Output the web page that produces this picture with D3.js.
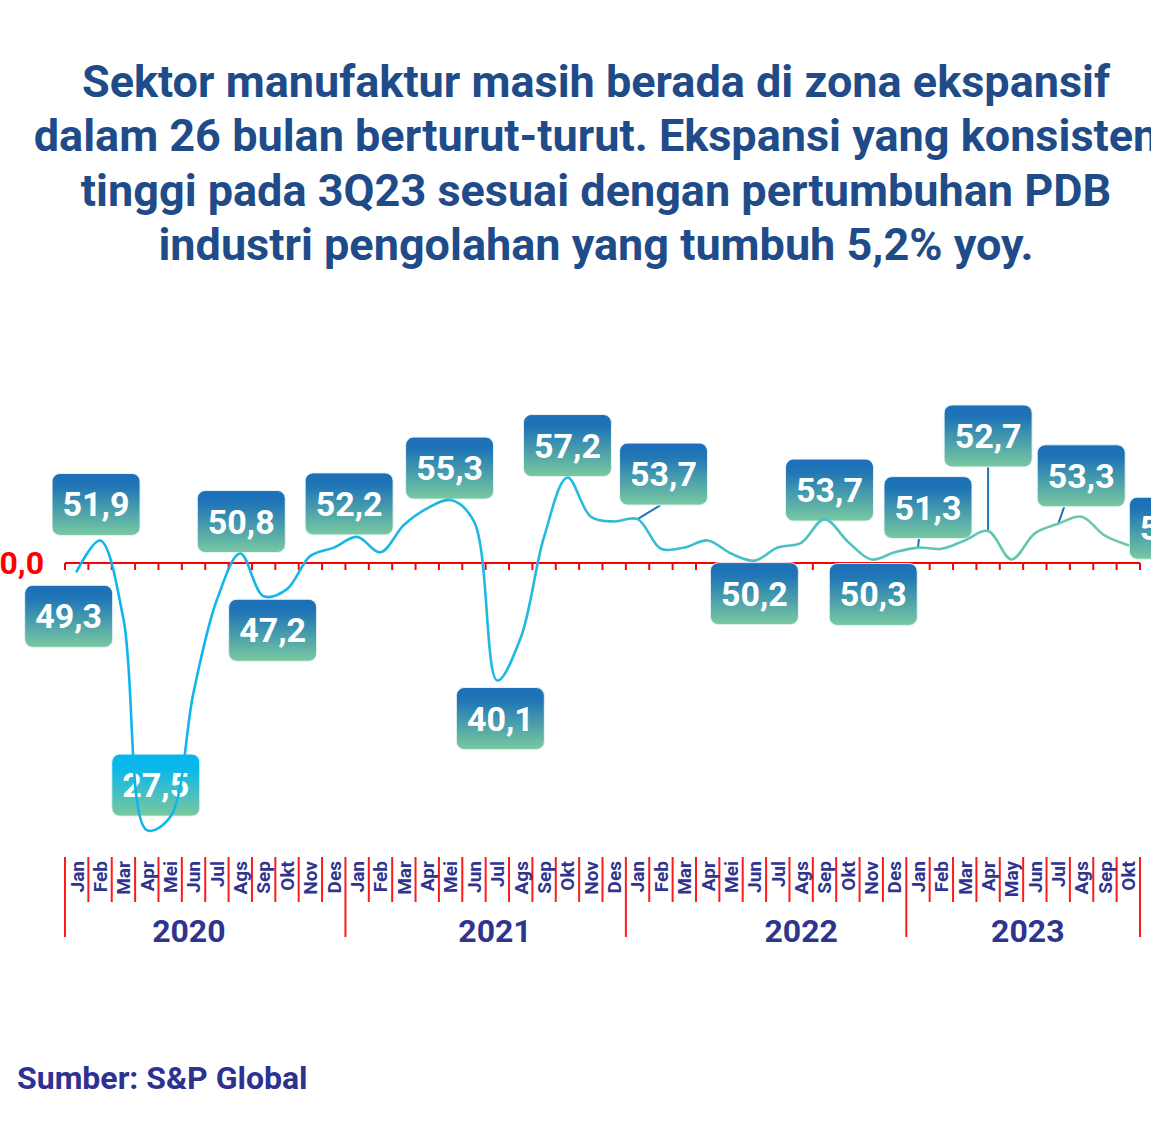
<!DOCTYPE html>
<html>
<head>
<meta charset="utf-8">
<script src="https://cdn.jsdelivr.net/npm/d3@7"></script>
<style>
  html, body { margin: 0; padding: 0; background: #ffffff; }
  svg { display: block; font-family: Roboto, "Noto Sans", sans-serif; }
</style>
</head>
<body>
<svg id="chart" width="1151" height="1129"></svg>
<script>
// ---------------- DATA ----------------
const years = ["2020", "2021", "2022", "2023"];
const monthsStd = ["Jan","Feb","Mar","Apr","Mei","Jun","Jul","Ags","Sep","Okt","Nov","Des"];
const months2023 = ["Jan","Feb","Mar","Apr","May","Jun","Jul","Ags","Sep","Okt"];
const pmi2020 = [49.3, 51.9, 45.3, 27.5, 28.6, 39.1, 46.9, 50.8, 47.2, 47.8, 50.6, 51.3];
const pmi2021 = [52.2, 50.9, 53.2, 54.6, 55.3, 53.5, 40.1, 43.7, 52.2, 57.2, 53.9, 53.5];
const pmi2022 = [53.7, 51.2, 51.3, 51.9, 50.8, 50.2, 51.3, 51.7, 53.7, 51.8, 50.3, 50.9];
const pmi2023 = [51.3, 51.2, 51.9, 52.7, 50.3, 52.5, 53.3, 53.9, 52.3, 51.5];
const baseline = 50;
const baselineLabel = "50,0";
const titleLines = [
  "Sektor manufaktur masih berada di zona ekspansif",
  "dalam 26 bulan berturut-turut. Ekspansi yang konsisten",
  "tinggi pada 3Q23 sesuai dengan pertumbuhan PDB",
  "industri pengolahan yang tumbuh 5,2% yoy."
];
const sourceText = "Sumber: S&P Global";
// indices of months that carry a value label
const labelledIdx = [0, 1, 3, 7, 8, 12, 16, 18, 21, 24, 29, 32, 34, 36, 39, 42, 45];

// ---------------- LAYOUT (label placement, not data) ----------------
const labelLayout = {
  0: {dx: -8, dy: 45}, 1: {dx: -4, dy: -36}, 3: {dx: 9, dy: -45, cyan: true},
  7: {dx: 1, dy: -32}, 8: {dx: 9, dy: 34}, 12: {dx: -8, dy: -33},
  16: {dx: -1, dy: -32}, 18: {dx: 3, dy: 38}, 21: {dx: 0, dy: -32},
  24: {dx: 26, dy: -45, conn: 23}, 29: {dx: 0, dy: 33}, 32: {dx: 5, dy: -29},
  34: {dx: 2, dy: 35}, 36: {dx: 10, dy: -40, conn: 1}, 39: {dx: 0, dy: -95, conn: 0},
  42: {dx: 23, dy: -48, conn: 6}, 45: {dx: 45, dy: -17}
};
const yearLabelBand = [5.3, 6.4, 7.5, 5.2];

// ---------------- BUILD ----------------
const monthsByYear = [monthsStd, monthsStd, monthsStd, months2023];
const valuesByYear = [pmi2020, pmi2021, pmi2022, pmi2023];
const data = [];
years.forEach((yr, yi) => {
  monthsByYear[yi].forEach((m, mi) => {
    data.push({year: yr, yi, month: m, value: valuesByYear[yi][mi], idx: data.length});
  });
});

const svg = d3.select("#chart");
const defs = svg.append("defs");

const x = d3.scaleBand().domain(data.map(d => d.idx)).range([65, 1140]).padding(0);
const bw = x.bandwidth();
const cx = i => x(i) + bw / 2;
const y = d3.scaleLinear().domain([25, 60]).range([859.8, 444.3]);

// gradients
const lg = defs.append("linearGradient").attr("id", "lineGrad")
  .attr("gradientUnits", "userSpaceOnUse").attr("x1", 65).attr("x2", 1140).attr("y1", 0).attr("y2", 0);
[[0, "#0db4ee"], [0.4, "#1db8e3"], [0.55, "#34bdd2"], [0.75, "#55c4ba"], [1, "#72c9a4"]]
  .forEach(([o, c]) => lg.append("stop").attr("offset", o).attr("stop-color", c));
const bg = defs.append("linearGradient").attr("id", "boxGrad").attr("x1", 0).attr("x2", 0).attr("y1", 0).attr("y2", 1);
[[0, "#1c6fb9"], [0.2, "#1f75b6"], [1, "#79caa0"]].forEach(([o, c]) => bg.append("stop").attr("offset", o).attr("stop-color", c));
const bgc = defs.append("linearGradient").attr("id", "boxGradCyan").attr("x1", 0).attr("x2", 0).attr("y1", 0).attr("y2", 1);
[[0, "#00b6ef"], [0.25, "#0cb8e8"], [1, "#7ac89c"]].forEach(([o, c]) => bgc.append("stop").attr("offset", o).attr("stop-color", c));

// title
svg.append("g").selectAll("text").data(titleLines).join("text")
  .attr("x", 596).attr("y", (d, i) => 97 + i * 54.3)
  .attr("text-anchor", "middle").attr("font-size", 45).attr("font-weight", 700)
  .attr("fill", "#1f4c88").text(d => d);

// baseline axis
const yb = y(baseline);
svg.append("line").attr("x1", 65).attr("x2", 1140).attr("y1", yb).attr("y2", yb)
  .attr("stroke", "#ff0000").attr("stroke-width", 2.2);
const bounds = d3.range(data.length + 1).map(i => i === data.length ? x.range()[1] : x(i));
svg.append("g").selectAll("line").data(bounds).join("line")
  .attr("x1", d => d).attr("x2", d => d).attr("y1", yb).attr("y2", yb + 7)
  .attr("stroke", "#ff0000").attr("stroke-width", 2);
svg.append("text").attr("x", 44).attr("y", yb + 11).attr("text-anchor", "end")
  .attr("font-size", 32).attr("font-weight", 700).attr("fill", "#ff0000").text(baselineLabel);

// bottom category axis
const yearStarts = [0, 12, 24, 36, 46];
const axisG = svg.append("g");
axisG.selectAll("line.m").data(bounds).join("line").attr("class", "m")
  .attr("x1", d => d).attr("x2", d => d)
  .attr("y1", 857).attr("y2", (d, i) => yearStarts.includes(i) ? 937 : 902)
  .attr("stroke", "#ff1a1a").attr("stroke-width", 2);
axisG.selectAll("text.m").data(data).join("text").attr("class", "m")
  .attr("transform", d => `translate(${cx(d.idx)},861) rotate(-90)`)
  .attr("dy", "0.36em").attr("text-anchor", "end")
  .attr("font-size", 19).attr("font-weight", 700).attr("fill", "#2f358f").text(d => d.month);
axisG.selectAll("text.y").data(years).join("text").attr("class", "y")
  .attr("x", (d, i) => x(yearStarts[i]) + yearLabelBand[i] * bw).attr("y", 942)
  .attr("text-anchor", "middle").attr("font-size", 32).attr("font-weight", 700)
  .attr("fill", "#2f358f").text(d => d);

// labels
const fmt = v => d3.format(".1f")(v).replace(".", ",");
const BW = 88, BH = 62;
const labG = svg.append("g");
labelledIdx.forEach(i => {
  const d = data[i];
  const L = labelLayout[i];
  const px = cx(i), py = y(d.value);
  const bx = px + L.dx, by = py + L.dy;
  if (L.conn !== undefined) {
    const top = by - BH / 2, bot = by + BH / 2;
    const sy = py > by ? bot : top;
    labG.append("line").attr("x1", px + L.conn).attr("y1", sy).attr("x2", px).attr("y2", py)
      .attr("stroke", "#1f73b7").attr("stroke-width", 2);
  }
  labG.append("rect").attr("x", bx - BW / 2).attr("y", by - BH / 2).attr("width", BW).attr("height", BH)
    .attr("rx", 8).attr("fill", L.cyan ? "url(#boxGradCyan)" : "url(#boxGrad)")
    .attr("stroke", "#e9f3f3").attr("stroke-width", 1);
  labG.append("text").attr("x", bx).attr("y", by + 12).attr("text-anchor", "middle")
    .attr("font-size", 34).attr("font-weight", 700).attr("fill", "#ffffff").text(fmt(d.value));
});

// line
const line = d3.line().x(d => cx(d.idx)).y(d => y(d.value)).curve(d3.curveCatmullRom.alpha(0.5));
svg.append("path").datum(data).attr("d", line).attr("fill", "none")
  .attr("stroke", "url(#lineGrad)").attr("stroke-width", 2.6).attr("stroke-linecap", "round");

// source
svg.append("text").attr("x", 17).attr("y", 1089).attr("font-size", 32).attr("font-weight", 700)
  .attr("fill", "#2e3192").text(sourceText);
</script>
</body>
</html>
